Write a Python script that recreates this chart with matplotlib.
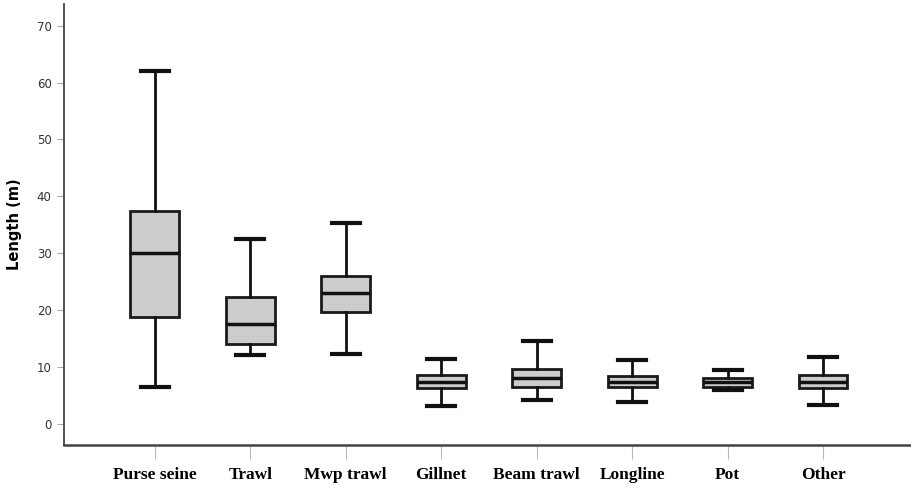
import numpy as np
import matplotlib.pyplot as plt

# box stats (m)
gears = ["Purse seine", "Trawl", "Mwp trawl", "Gillnet", "Beam trawl", "Longline", "Pot", "Other"]
whislo = [6.45, 12.1, 12.3, 3.2, 4.2, 3.8, 5.9, 3.4]
q1 = [18.75, 14.0, 19.7, 6.3, 6.45, 6.5, 6.55, 6.3]
med = [30.1, 17.6, 23.0, 7.4, 8.1, 7.4, 7.4, 7.4]
q3 = [37.5, 22.3, 26.0, 8.55, 9.7, 8.45, 8.15, 8.55]
whishi = [62.1, 32.45, 35.4, 11.5, 14.65, 11.25, 9.4, 11.8]

stats = []
for i in range(len(gears)):
    stats.append({"label": gears[i], "whislo": whislo[i], "q1": q1[i], "med": med[i],
                  "q3": q3[i], "whishi": whishi[i], "fliers": []})

fig = plt.figure(figsize=(9.11, 4.88), dpi=100)
ax = fig.add_axes([64/911, 1-445/488, 1-64/911, (445-4)/488])

ax.bxp(stats, positions=np.arange(len(gears)), widths=0.51, capwidths=0.29,
       patch_artist=True, showfliers=False,
       boxprops=dict(facecolor="#cccccc", edgecolor="#1a1a1a", linewidth=2),
       medianprops=dict(color="#111111", linewidth=2.5),
       whiskerprops=dict(color="#111111", linewidth=2),
       capprops=dict(color="#111111", linewidth=3))

ax.set_xlim(-0.95, 7.92)
ax.set_ylim(-3.7, 73.8)
ax.set_yticks(range(0, 80, 10))
ax.tick_params(axis="y", length=5, color="#aaaaaa", labelsize=8.5, labelcolor="#333333", pad=4)
ax.tick_params(axis="x", length=10, color="#bbbbbb", pad=6)
ax.set_xticks(np.arange(len(gears)))
ax.set_xticklabels(gears, family="Liberation Serif", fontweight="bold", fontsize=12.5)
ax.set_ylabel("Length (m)", fontweight="bold", fontsize=10.5)
ax.yaxis.set_label_coords(-0.05, 0.5)

for s in ["top", "right"]:
    ax.spines[s].set_visible(False)
ax.spines["left"].set_color("#444444")
ax.spines["bottom"].set_color("#444444")
ax.spines["left"].set_linewidth(1.3)
ax.spines["bottom"].set_linewidth(1.8)

fig.savefig("out.png", dpi=100)
